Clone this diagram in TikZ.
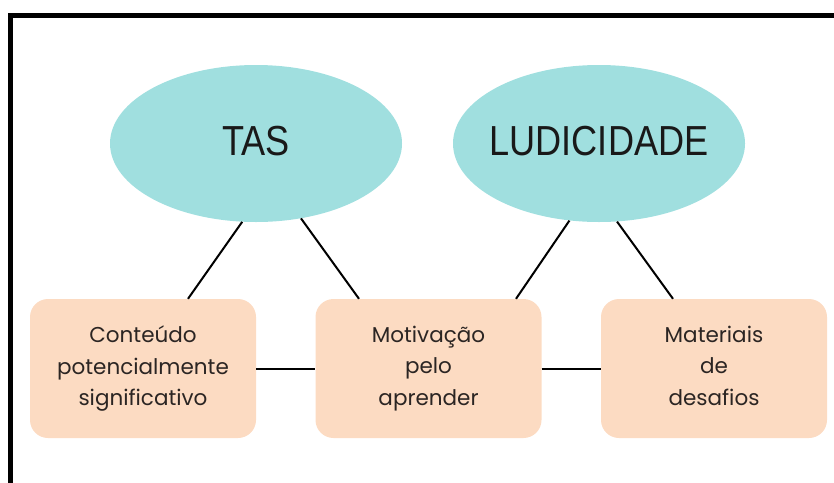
\documentclass[tikz,border=0pt]{standalone}
\usepackage{fontspec}
\setmainfont{Poppins}
\newfontfamily\condfont[FakeStretch=0.86]{Liberation Sans}
\usetikzlibrary{shapes.geometric}
\definecolor{ellfill}{HTML}{A0DFDF}
\definecolor{boxfill}{HTML}{FCDBC2}
\definecolor{boxtext}{HTML}{2B2523}
\tikzset{
  bubble/.style={ellipse, fill=ellfill, draw=none, minimum width=292pt, minimum height=157pt, inner sep=0pt,
    font=\condfont\fontsize{42}{42}\selectfont, text=black!90},
  card/.style={rectangle, fill=boxfill, draw=none, rounded corners=18pt, minimum width=226pt, minimum height=139pt,
    inner sep=0pt, align=center, text=boxtext, font=\fontsize{21.5}{31.5}\selectfont},
  link/.style={draw=black, line width=2pt},
  frame/.style={draw=black, line width=5pt}
}
\begin{document}
\begin{tikzpicture}[x=1pt,y=-1pt]
\useasboundingbox (0,0) rectangle (834,482);
\draw[frame] (10.8,490) coordinate (fb) -- (10.8,15.8) coordinate (fc) -- (840,15.8) coordinate (fr);
\node[bubble] (tas) at (256,143.5) {\raisebox{5pt}{\makebox[0pt]{TAS}}};
\node[bubble] (lud) at (599,143.5) {\raisebox{5pt}{\makebox[0pt]{LUDICIDADE}}};
\node[card] (b1) at (143,368.5) {Conteúdo\\potencialmente\\significativo};
\node[card] (b2) at (428.5,368.5) {Motivação\\pelo\\aprender};
\node[card] (b3) at (714,368.5) {Materiais\\de\\desafios\vphantom{g}};
\draw[link] (tas.260.6) -- ([xshift=45pt]b1.north);
\draw[link] (tas.301) -- ([xshift=-69.5pt]b2.north);
\draw[link] (lud.249.3) -- ([xshift=87.5pt]b2.north);
\draw[link] (lud.283.7) -- ([xshift=-41pt]b3.north);
\draw[link] (b1.east) -- (b2.west);
\draw[link] (b2.east) -- (b3.west);
\end{tikzpicture}
\end{document}
